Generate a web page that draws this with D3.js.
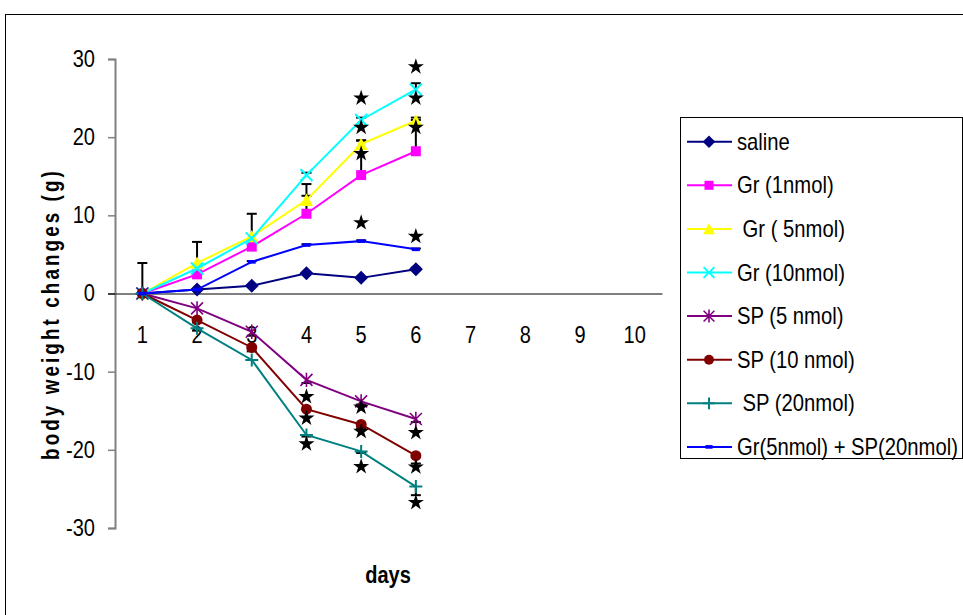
<!DOCTYPE html>
<html><head><meta charset="utf-8">
<script src="https://cdn.jsdelivr.net/npm/d3@7"></script>
<style>body{margin:0;background:#fff}svg{display:block}</style>
</head><body>
<svg id="c" width="963" height="615"></svg>
<script>
const days = ["1","2","3","4","5","6","7","8","9","10"];
const yTicks = [-30,-20,-10,0,10,20,30];
const seriesNames = ["saline","Gr (1nmol)","\u00a0Gr ( 5nmol)","Gr (10nmol)","SP (5 nmol)","SP (10 nmol)","\u00a0SP (20nmol)","Gr(5nmol) + SP(20nmol)"];
const seriesColors = ["#000080","#FF00FF","#FFFF00","#00FFFF","#800080","#800000","#008080","#0000FF"];
const seriesMarkers = ["diamond","square","triangle","x","asterisk","circle","plus","dash"];
const saline = [0,0.5,1.0,2.6,2.0,3.1];
const gr1 = [0,2.45,6.0,10.2,15.15,18.2];
const gr5 = [0,3.9,7.3,11.95,19.1,22.1];
const gr10 = [0,3.2,7.05,15.15,22.2,26.1];
const sp5 = [0,-1.9,-4.9,-11.05,-13.8,-16.05];
const sp10 = [0,-3.4,-6.9,-14.8,-16.75,-20.75];
const sp20 = [0,-4.45,-8.5,-18.1,-20.2,-24.7];
const grsp = [0,0.5,4.05,6.2,6.7,5.65];
const errSaline = [3.9,0,0,0,0,0.2];
const errGr1 = [0,0,0,2.3,4.4,4.0];
const errGr5 = [0,2.7,2.9,2.05,0.5,0.4];
const errGr10 = [0,0,0,0.3,0.3,0.8];
const errSp5 = [0,0,-0.5,-0.4,-0.4,-0.4];
const errSp10 = [0,-0.3,-0.5,0,-0.5,-1.0];
const errSp20 = [0,-0.3,0,-0.2,-0.2,-1.1];
const errGrsp = [0,0,0.1,0.1,0.1,0.1];
const starsUp = [["5",25],["5",21.25],["5",17.9],["5",9.05],["6",29],["6",25],["6",21.25],["6",7.3]];
const starsDown = [["4",-13.2],["4",-15.95],["4",-19.25],["5",-14.55],["5",-17.65],["5",-22.15],["6",-17.8],["6",-22.2],["6",-26.75]];

const values = [saline,gr1,gr5,gr10,sp5,sp10,sp20,grsp];
const errors = [errSaline,errGr1,errGr5,errGr10,errSp5,errSp10,errSp20,errGrsp];

const svg = d3.select("#c");
const FONT = "'Liberation Sans',Arial,sans-serif";
const NARROW = 0.87;

svg.append("rect").attr("x",5.5).attr("y",14.5).attr("width",1000).attr("height",1000)
  .attr("fill","none").attr("stroke","#000").attr("stroke-width",1);

const x = d3.scaleBand().domain(days).range([115,662]);
const xc = d => x(d) + x.bandwidth()/2;
const y = d3.scaleLinear().domain([-30,30]).range([528,59]);

// y axis
const ya = svg.append("g").attr("transform","translate(115,0)")
  .call(d3.axisLeft(y).tickValues(yTicks).tickFormat(d=>String(d)).tickSize(7).tickPadding(16));
ya.select(".domain").attr("stroke","#808080").attr("stroke-width",2);
ya.selectAll(".tick line").attr("stroke","#808080").attr("stroke-width",1.5);
ya.selectAll("text").attr("font-family",FONT).attr("font-size",23).attr("fill","#000")
  .attr("transform",`scale(${NARROW},1)`);
ya.selectAll(".tick").filter(d=>d===0).select("line").attr("stroke","#000");

// x axis at zero
const xa = svg.append("g").attr("transform",`translate(0,${y(0)})`)
  .call(d3.axisBottom(x).tickSize(0).tickPadding(33));
xa.select(".domain").attr("stroke","#000").attr("stroke-width",1.2);
xa.selectAll("text").attr("font-family",FONT).attr("font-size",23).attr("fill","#000")
  .attr("transform",`scale(${NARROW},1)`);

// axis titles
const yt = svg.append("text").attr("text-anchor","middle")
  .attr("font-family",FONT).attr("font-weight","bold").attr("font-size",24)
  .attr("letter-spacing",4).text("body weight changes (g)");
const ytLen = yt.node().getComputedTextLength();
yt.attr("transform",`translate(59,314) rotate(-90) scale(${292/ytLen},1)`);

svg.append("text").attr("text-anchor","middle")
  .attr("transform",`translate(388,583) scale(${NARROW},1)`)
  .attr("font-family",FONT).attr("font-weight","bold").attr("font-size",23).text("days");

function marker(g, type, color, cx, cy, scale) {
  const s = scale || 1;
  if (type === "diamond") {
    const r = 7*s;
    g.append("path").attr("d",`M${cx},${cy-r}L${cx+r},${cy}L${cx},${cy+r}L${cx-r},${cy}Z`).attr("fill",color);
  } else if (type === "square") {
    const r = 5*s;
    g.append("rect").attr("x",cx-r).attr("y",cy-r).attr("width",2*r).attr("height",2*r).attr("fill",color);
  } else if (type === "triangle") {
    const r = 6.5*s;
    g.append("path").attr("d",`M${cx},${cy-r}L${cx+r},${cy+r*0.9}L${cx-r},${cy+r*0.9}Z`).attr("fill",color);
  } else if (type === "x") {
    const r = 6*s;
    g.append("path").attr("d",`M${cx-r},${cy-r}L${cx+r},${cy+r}M${cx-r},${cy+r}L${cx+r},${cy-r}`)
      .attr("stroke",color).attr("stroke-width",2).attr("fill","none");
  } else if (type === "asterisk") {
    const r = 6*s;
    g.append("path").attr("d",`M${cx-r},${cy-r}L${cx+r},${cy+r}M${cx-r},${cy+r}L${cx+r},${cy-r}M${cx},${cy-r*1.2}L${cx},${cy+r*1.2}`)
      .attr("stroke",color).attr("stroke-width",1.6).attr("fill","none");
  } else if (type === "circle") {
    g.append("circle").attr("cx",cx).attr("cy",cy).attr("r",5.5*s).attr("fill",color);
  } else if (type === "plus") {
    const r = 6.5*s;
    g.append("path").attr("d",`M${cx-r},${cy}L${cx+r},${cy}M${cx},${cy-r}L${cx},${cy+r}`)
      .attr("stroke",color).attr("stroke-width",2).attr("fill","none");
  } else if (type === "dash") {
    g.append("rect").attr("x",cx-4*s).attr("y",cy-1.8).attr("width",8*s).attr("height",3.6).attr("fill",color);
  }
}

const plot = svg.append("g");
const line = d3.line().x((d,i)=>xc(days[i])).y(d=>y(d));

// error bars
const eb = plot.append("g");
values.forEach((vals,si)=>{
  vals.forEach((v,i)=>{
    const e = errors[si][i];
    if (!e) return;
    const cx = xc(days[i]);
    eb.append("line").attr("x1",cx).attr("x2",cx).attr("y1",y(v)).attr("y2",y(v+e)).attr("stroke","#000").attr("stroke-width",2);
    eb.append("line").attr("x1",cx-5).attr("x2",cx+5).attr("y1",y(v+e)).attr("y2",y(v+e)).attr("stroke","#000").attr("stroke-width",2);
  });
});

values.forEach((vals,si)=>{
  const g = plot.append("g");
  g.append("path").attr("d",line(vals)).attr("fill","none").attr("stroke",seriesColors[si]).attr("stroke-width",2);
  vals.forEach((v,i)=>marker(g,seriesMarkers[si],seriesColors[si],xc(days[i]),y(v)));
});

// stars
const star = d3.symbol().type(d3.symbolStar).size(80);
plot.selectAll(".st").data(starsUp.concat(starsDown)).enter().append("path")
  .attr("d",star).attr("fill","#000")
  .attr("transform",d=>`translate(${xc(d[0])},${y(d[1])})`);

// legend
const lg = svg.append("g");
lg.append("rect").attr("x",680.5).attr("y",117.5).attr("width",282).attr("height",341)
  .attr("fill","#fff").attr("stroke","#000").attr("stroke-width",1);
seriesNames.forEach((n,i)=>{
  const cy = 141.7 + i*43.6;
  lg.append("line").attr("x1",687).attr("x2",732).attr("y1",cy).attr("y2",cy)
    .attr("stroke",seriesColors[i]).attr("stroke-width",2);
  marker(lg,seriesMarkers[i],seriesColors[i],709,cy,0.9);
  lg.append("text").attr("transform",`translate(737,${cy+8}) scale(0.88,1)`)
    .attr("font-family",FONT).attr("font-size",23).attr("fill","#000").text(n);
});
</script>
</body></html>
